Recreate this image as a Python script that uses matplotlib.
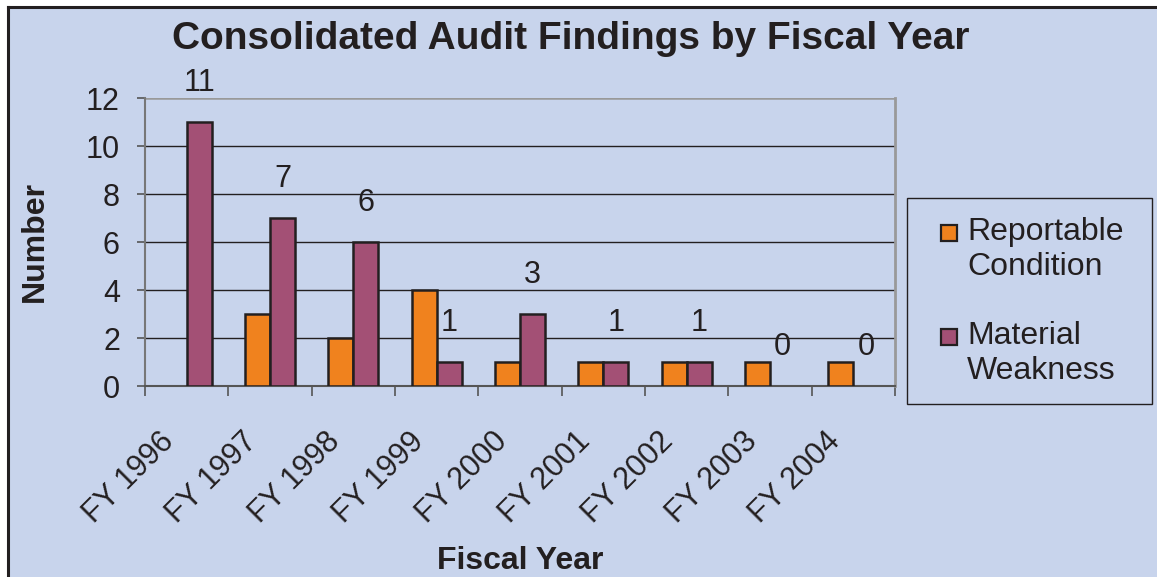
import matplotlib
matplotlib.use("Agg")
import matplotlib.pyplot as plt
import matplotlib.transforms as mtransforms
from matplotlib.patches import Rectangle
from matplotlib.lines import Line2D
import numpy as np

plt.rcParams["font.family"] = "Liberation Sans"

years = ["FY 1996", "FY 1997", "FY 1998", "FY 1999", "FY 2000",
         "FY 2001", "FY 2002", "FY 2003", "FY 2004"]
reportable = [0, 3, 2, 4, 1, 1, 1, 1, 1]
material = [11, 7, 6, 1, 3, 1, 1, 0, 0]
series_names = ["Reportable\nCondition", "Material\nWeakness"]

BG = "#C8D4EC"; C_R = "#F0821E"; C_M = "#A35075"; INK = "#231F20"
W, H = 1157, 577

fig = plt.figure(figsize=(W / 100, H / 100), dpi=100, facecolor="white")
# chart area background with left/top border
fig.patches.append(Rectangle((8 / W, 0), 1, 1 - 7 / H, transform=fig.transFigure,
                             facecolor=BG, edgecolor="none", zorder=-5))
fig.lines.append(Line2D([8 / W, 8 / W], [0, 1 - 7 / H], transform=fig.transFigure, color=INK, lw=2.2))
fig.lines.append(Line2D([8 / W, 1], [1 - 7 / H, 1 - 7 / H], transform=fig.transFigure, color=INK, lw=2.2))

ax = fig.add_axes([145 / W, 1 - 386 / H, (895 - 145) / W, (386 - 98) / H])
ax.set_facecolor(BG)
x = np.arange(len(years))
bw = 0.3
br = ax.bar(x - bw / 2, reportable, bw, color=C_R, edgecolor=INK, lw=1.8, zorder=3)
bm = ax.bar(x + bw / 2, material, bw, color=C_M, edgecolor=INK, lw=1.8, zorder=3)
for rect, v in list(zip(br, reportable)) + list(zip(bm, material)):
    if v == 0:
        rect.set_linewidth(0)
for rect, v in zip(bm, material):
    ax.annotate(str(v), (rect.get_x() + rect.get_width() / 2, v), xytext=(0, 28),
                textcoords="offset points", ha="center", va="center", fontsize=22, color=INK,
                annotation_clip=False)

ax.set_xlim(-0.5, len(years) - 0.5)
ax.set_ylim(0, 12)
ax.set_yticks(range(0, 13, 2))
ax.tick_params(axis="y", direction="out", length=6, width=1.2, colors="#555555", labelsize=22,
               labelcolor=INK, pad=12)
ax.set_xticks(x)
ax.set_xticklabels(years, rotation=45, ha="right", va="top", fontsize=22, color=INK)
ax.tick_params(axis="x", which="major", length=0, pad=29)
ax.set_xticks(np.arange(-0.5, len(years), 1), minor=True)
ax.tick_params(axis="x", which="minor", direction="out", length=7, width=1.2, colors="#555555")
off = mtransforms.ScaledTranslation(-7 / 100, 0, fig.dpi_scale_trans)
for lab in ax.get_xticklabels():
    lab.set_transform(lab.get_transform() + off)

ax.grid(True, axis="y", color=INK, lw=1.0, zorder=1)
ax.get_ygridlines()[-1].set_color("#999999")
ax.get_ygridlines()[-1].set_linewidth(1.8)
ax.spines["top"].set_visible(False)
ax.spines["left"].set_color("#777777"); ax.spines["left"].set_linewidth(1.5)
ax.spines["right"].set_color("#999999"); ax.spines["right"].set_linewidth(2)
ax.spines["bottom"].set_color("#555555"); ax.spines["bottom"].set_linewidth(1.5)

fig.text(571 / W, 1 - 39 / H, "Consolidated Audit Findings by Fiscal Year", ha="center", va="center",
         fontsize=28, fontweight="bold", color=INK)
fig.text(520 / W, 1 - 561 / H, "Fiscal Year", ha="center", va="center",
         fontsize=23, fontweight="bold", color=INK)
fig.text(35 / W, 1 - 241 / H, "Number", ha="center", va="center", rotation=90,
         fontsize=23, fontweight="bold", color=INK)

# legend box
fig.patches.append(Rectangle((907 / W, 1 - 404 / H), (1152 - 907) / W, (404 - 198) / H,
                             transform=fig.transFigure, facecolor=BG, edgecolor=INK, lw=1.0, zorder=2))
for i, (name, col) in enumerate(zip(series_names, [C_R, C_M])):
    ytop = 233 + i * 104
    fig.patches.append(Rectangle((941 / W, 1 - (ytop + 8) / H), 16 / W, 16 / H, transform=fig.transFigure,
                                 facecolor=col, edgecolor=INK, lw=1.6, zorder=3))
    fig.text(967 / W, 1 - (ytop - 16) / H, name, ha="left", va="top", fontsize=23,
             color=INK, linespacing=1.2, zorder=3)

fig.savefig("out.png", dpi=100, facecolor="white")
